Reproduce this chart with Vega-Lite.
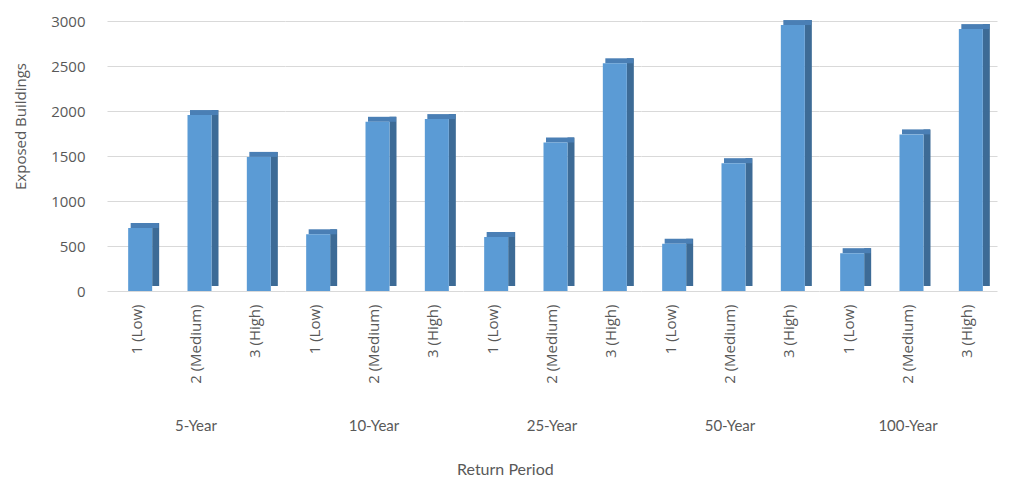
{
  "$schema": "https://vega.github.io/schema/vega-lite/v6.json",
  "background": "white",
  "padding": {"left": 13, "top": 14, "right": 6, "bottom": 6},
  "title": {"text": "Return Period", "orient": "bottom", "anchor": "middle", "font": "Lato", "fontSize": 16, "fontWeight": "normal", "color": "#595959", "offset": 28},
  "data": {"values": [
    {"period": "5-Year", "level": "1 (Low)", "value": 700},
    {"period": "5-Year", "level": "2 (Medium)", "value": 1955},
    {"period": "5-Year", "level": "3 (High)", "value": 1490},
    {"period": "10-Year", "level": "1 (Low)", "value": 630},
    {"period": "10-Year", "level": "2 (Medium)", "value": 1880},
    {"period": "10-Year", "level": "3 (High)", "value": 1910},
    {"period": "25-Year", "level": "1 (Low)", "value": 600},
    {"period": "25-Year", "level": "2 (Medium)", "value": 1650},
    {"period": "25-Year", "level": "3 (High)", "value": 2530},
    {"period": "50-Year", "level": "1 (Low)", "value": 525},
    {"period": "50-Year", "level": "2 (Medium)", "value": 1420},
    {"period": "50-Year", "level": "3 (High)", "value": 2955},
    {"period": "100-Year", "level": "1 (Low)", "value": 420},
    {"period": "100-Year", "level": "2 (Medium)", "value": 1740},
    {"period": "100-Year", "level": "3 (High)", "value": 2910}
  ]},
  "facet": {
    "column": {
      "field": "period", "type": "nominal",
      "sort": ["5-Year", "10-Year", "25-Year", "50-Year", "100-Year"],
      "title": null,
      "header": {"labelOrient": "bottom", "labelFont": "Lato", "labelFontSize": 15, "labelColor": "#595959", "labelPadding": 36}
    }
  },
  "spacing": {"column": 0},
  "spec": {
    "width": 178,
    "height": 270,
    "encoding": {
      "x": {
        "field": "level", "type": "nominal",
        "scale": {"type": "band", "paddingInner": 0, "paddingOuter": 0},
        "axis": {"title": null, "labelAngle": -90, "labelAlign": "right", "labelBaseline": "middle", "labelFont": "Open Sans", "labelFontSize": 15, "labelColor": "#595959", "labelPadding": 13, "ticks": false, "domain": false, "grid": false}
      },
      "y": {
        "field": "value", "type": "quantitative",
        "scale": {"domain": [0, 3000], "nice": false},
        "axis": {"title": "Exposed Buildings", "format": "d", "values": [0, 500, 1000, 1500, 2000, 2500, 3000], "ticks": false, "domain": false, "grid": true, "gridColor": "#d9d9d9", "gridWidth": 1.2, "labelFont": "Open Sans", "labelFontSize": 15, "labelColor": "#595959", "labelPadding": 22, "titleFont": "Open Sans", "titleFontSize": 15, "titleFontWeight": "normal", "titleColor": "#595959", "titlePadding": 22, "titleY": 105}
      }
    },
    "layer": [
      {"mark": {"type": "bar", "width": 7, "xOffset": 19, "yOffset": -5, "color": "#3d6b96"}},
      {"mark": {"type": "tick", "orient": "horizontal", "size": 28, "thickness": 5, "xOffset": 8, "yOffset": -2.5, "color": "#4a7fb5", "opacity": 1}},
      {"mark": {"type": "bar", "width": 24, "xOffset": 3.5, "color": "#5b9bd5"}}
    ]
  },
  "config": {"view": {"stroke": null}}
}
